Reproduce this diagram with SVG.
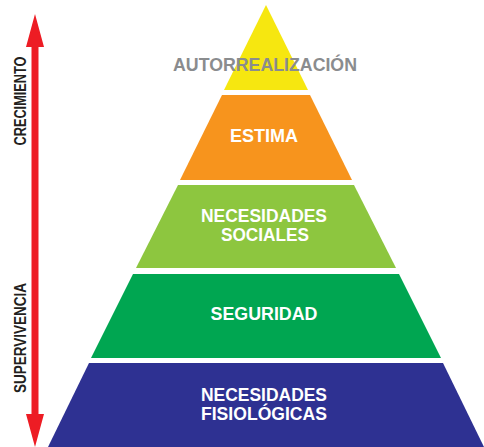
<svg xmlns="http://www.w3.org/2000/svg" width="484" height="447" viewBox="0 0 484 447">
<defs>
<style>
.lbl{font-family:"Liberation Sans",Arial,sans-serif;font-weight:bold;font-size:19px;text-anchor:middle;fill:#ffffff}
.side{font-family:"Liberation Sans",Arial,sans-serif;font-weight:bold;font-size:16px;text-anchor:middle;fill:#231f20}
</style>
</defs>
<rect width="484" height="447" fill="#ffffff"/>
<g id="connectors">
<line x1="35" y1="46" x2="35" y2="414" stroke="#ed1c24" stroke-width="7"/>
<polygon points="35,14 26,47 44,47" fill="#ed1c24"/>
<polygon points="35,447 26,414 44,414" fill="#ed1c24"/>
</g>
<g id="crecimiento"><text class="side" transform="translate(26,101) rotate(-90)" textLength="89" lengthAdjust="spacingAndGlyphs">CRECIMIENTO</text></g>
<g id="supervivencia"><text class="side" transform="translate(26,338) rotate(-90)" textLength="110" lengthAdjust="spacingAndGlyphs">SUPERVIVENCIA</text></g>
<g id="autorrealizacion">
<polygon points="266,5 308,90 224,90" fill="#f6e710"/>
<text class="lbl" x="265" y="71" style="fill:#8a8c8e" textLength="184" lengthAdjust="spacingAndGlyphs">AUTORREALIZACIÓN</text>
</g>
<g id="estima">
<polygon points="222,95 310,95 352,180 180,180" fill="#f7941d"/>
<text class="lbl" x="264" y="142" textLength="68" lengthAdjust="spacingAndGlyphs">ESTIMA</text>
</g>
<g id="sociales">
<polygon points="178,185 354,185 396,268 136,268" fill="#8dc63f"/>
<text class="lbl" x="264" y="222" textLength="126" lengthAdjust="spacingAndGlyphs">NECESIDADES</text>
<text class="lbl" x="265" y="241" textLength="88" lengthAdjust="spacingAndGlyphs">SOCIALES</text>
</g>
<g id="seguridad">
<polygon points="133,274 399,274 441,358 91,358" fill="#00a651"/>
<text class="lbl" x="264" y="320" textLength="107" lengthAdjust="spacingAndGlyphs">SEGURIDAD</text>
</g>
<g id="fisiologicas">
<polygon points="89,363 443,363 484,447 48,447" fill="#2e3192"/>
<text class="lbl" x="264" y="401" textLength="126" lengthAdjust="spacingAndGlyphs">NECESIDADES</text>
<text class="lbl" x="264" y="420" textLength="126" lengthAdjust="spacingAndGlyphs">FISIOLÓGICAS</text>
</g>
</svg>
